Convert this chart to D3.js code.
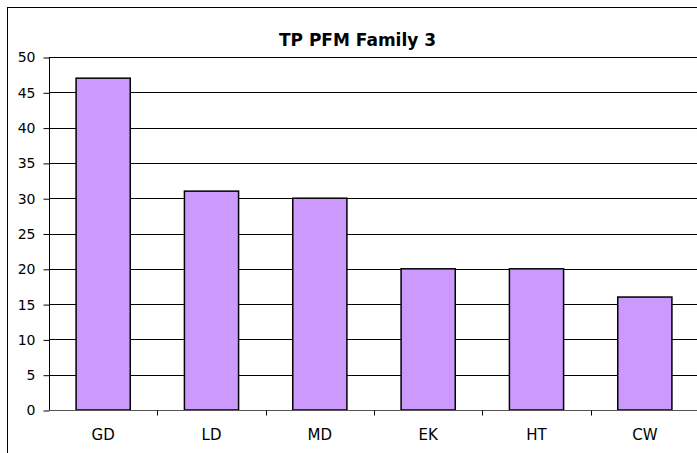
<!DOCTYPE html>
<html>
<head>
<meta charset="utf-8">
<script src="https://cdn.jsdelivr.net/npm/d3@7"></script>
<style>
  body { margin: 0; background: #fff; }
  svg { display: block; }
</style>
</head>
<body>
<div id="chart"></div>
<script>
// Data
var categories = ['GD', 'LD', 'MD', 'EK', 'HT', 'CW'];
var values = [47, 31, 30, 20, 20, 16];
var yTicks = [0, 5, 10, 15, 20, 25, 30, 35, 40, 45, 50];
var title = 'TP PFM Family 3';

var width = 697;
var height = 453;
var plot = { left: 49, right: 699, top: 57, bottom: 410 };
var font = 'Tahoma, "DejaVu Sans", Verdana, sans-serif';

var svg = d3.select('#chart')
  .append('svg')
  .attr('width', width)
  .attr('height', height);

// outer chart border (right and bottom fall outside the picture)
svg.append('rect')
  .attr('x', 7.5)
  .attr('y', 7.5)
  .attr('width', 720)
  .attr('height', 480)
  .attr('fill', '#fff')
  .attr('stroke', '#000')
  .attr('stroke-width', 1);

// Scales
const xScale = d3.scaleBand()
  .domain(categories)
  .range([plot.left, plot.right])
  .paddingInner(0.5)
  .paddingOuter(0.25);

const yScale = d3.scaleLinear()
  .domain([0, 50])
  .range([plot.bottom, plot.top]);

// gridlines
svg.append('g')
  .selectAll('line')
  .data(yTicks.filter(d => d > 0))
  .enter()
  .append('line')
  .attr('x1', plot.left)
  .attr('x2', plot.right)
  .attr('y1', d => Math.round(yScale(d)) + 0.5)
  .attr('y2', d => Math.round(yScale(d)) + 0.5)
  .attr('stroke', '#000')
  .attr('stroke-width', 1);

// bars
svg.append('g')
  .selectAll('rect')
  .data(values)
  .enter()
  .append('rect')
  .attr('x', (d, i) => xScale(categories[i]))
  .attr('y', d => yScale(d))
  .attr('width', xScale.bandwidth())
  .attr('height', d => yScale(0) - yScale(d))
  .attr('fill', '#cc99ff')
  .attr('stroke', '#000')
  .attr('stroke-width', 1.5);

// y axis
const yAxis = d3.axisLeft(yScale)
  .tickValues(yTicks)
  .tickSize(6)
  .tickPadding(8);

const yG = svg.append('g')
  .attr('transform', 'translate(' + (plot.left + 0.5) + ',0.5)')
  .call(yAxis);
yG.select('.domain').attr('d', 'M0,' + plot.top + 'V' + plot.bottom);
yG.selectAll('text')
  .style('font-family', font)
  .style('font-size', '14px')
  .attr('fill', '#000');

// x axis
const xAxis = d3.axisBottom(xScale)
  .tickSize(0)
  .tickPadding(19);

const xG = svg.append('g')
  .attr('transform', 'translate(0,' + (plot.bottom + 0.5) + ')')
  .call(xAxis);
xG.select('.domain').attr('d', 'M' + plot.left + ',0H' + plot.right).attr('stroke', '#555');
xG.selectAll('text')
  .style('font-family', font)
  .style('font-size', '15px')
  .attr('fill', '#000');

// category separator ticks
const step = xScale.step();
xG.append('g')
  .selectAll('line')
  .data(d3.range(1, categories.length))
  .enter()
  .append('line')
  .attr('x1', i => Math.round(plot.left + i * step) + 0.5)
  .attr('x2', i => Math.round(plot.left + i * step) + 0.5)
  .attr('y1', 0)
  .attr('y2', 5)
  .attr('stroke', '#000');

// title
svg.append('text')
  .attr('x', 357.5)
  .attr('y', 46)
  .attr('text-anchor', 'middle')
  .style('font-family', font)
  .style('font-size', '17px')
  .style('font-weight', 'bold')
  .text(title);
</script>
</body>
</html>
